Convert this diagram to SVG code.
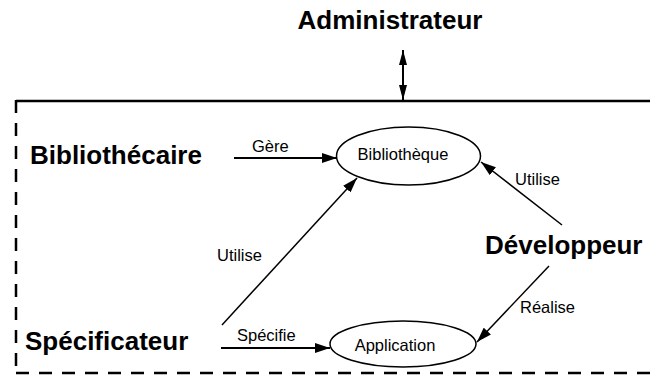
<svg xmlns="http://www.w3.org/2000/svg" width="658" height="384" viewBox="0 0 658 384">
<defs>
<style>
.actor{font-family:"Liberation Sans",Arial,sans-serif;font-weight:bold;font-size:26px;fill:#000}
.lbl{font-family:"Liberation Sans",Arial,sans-serif;font-size:16.5px;fill:#000}
.uc{fill:#fff;stroke:#000;stroke-width:1.5}
.cn{stroke:#000;fill:none}
.dash{stroke:#000;stroke-width:2.5;fill:none;stroke-dasharray:13 10}
</style>
<marker id="ah" viewBox="0 0 15 10" refX="15" refY="5" markerWidth="15" markerHeight="10" markerUnits="userSpaceOnUse" orient="auto-start-reverse">
<path d="M0,0 L15,5 L0,10 z" fill="#000"/>
</marker>
<marker id="ahn" viewBox="0 0 15 8" refX="15" refY="4" markerWidth="15" markerHeight="8" markerUnits="userSpaceOnUse" orient="auto-start-reverse">
<path d="M0,0 L15,4 L0,8 z" fill="#000"/>
</marker>
</defs>
<rect width="658" height="384" fill="#fff"/>
<g id="boundary">
<line x1="16" y1="101" x2="650" y2="101" stroke="#000" stroke-width="2.5"/>
<line class="dash" x1="16" y1="100" x2="16" y2="373"/>
<line class="dash" x1="16" y1="373" x2="650" y2="373"/>
</g>
<g id="connectors">
<line class="cn" x1="403" y1="50" x2="403" y2="100" stroke-width="2" marker-start="url(#ahn)" marker-end="url(#ahn)"/>
<line class="cn" x1="234" y1="158" x2="337" y2="158" stroke-width="2" marker-end="url(#ah)"/>
<line class="cn" x1="222" y1="325" x2="357" y2="178" stroke-width="1.5" marker-end="url(#ah)"/>
<line class="cn" x1="562" y1="225" x2="481" y2="162" stroke-width="1.5" marker-end="url(#ah)"/>
<line class="cn" x1="549" y1="266" x2="477" y2="342" stroke-width="1.5" marker-end="url(#ah)"/>
<line class="cn" x1="221" y1="348" x2="330" y2="348" stroke-width="2" marker-end="url(#ah)"/>
<text class="lbl" x="252" y="152">Gère</text>
<text class="lbl" x="217" y="261">Utilise</text>
<text class="lbl" x="515" y="185">Utilise</text>
<text class="lbl" x="520" y="313">Réalise</text>
<text class="lbl" x="237" y="341">Spécifie</text>
</g>
<g id="administrateur"><text class="actor" x="390" y="29" text-anchor="middle">Administrateur</text></g>
<g id="bibliothecaire"><text class="actor" x="30" y="164">Bibliothécaire</text></g>
<g id="developpeur"><text class="actor" x="485" y="254">Développeur</text></g>
<g id="specificateur"><text class="actor" x="25" y="350">Spécificateur</text></g>
<g id="bibliotheque">
<ellipse class="uc" cx="408.5" cy="156" rx="72" ry="29"/>
<text class="lbl" x="403" y="160" text-anchor="middle">Bibliothèque</text>
</g>
<g id="application">
<ellipse class="uc" cx="403" cy="344" rx="73" ry="23"/>
<text class="lbl" x="395" y="351" text-anchor="middle">Application</text>
</g>
</svg>
